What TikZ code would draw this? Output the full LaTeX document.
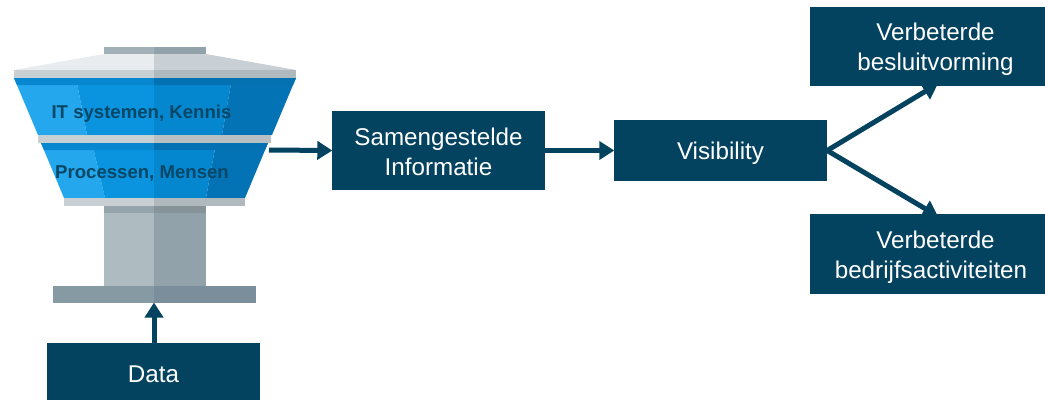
\documentclass[tikz,border=0pt]{standalone}
\usepackage{fontspec}
\setmainfont{Liberation Sans}
\usetikzlibrary{arrows.meta}
\definecolor{navy}{HTML}{03435F}
\definecolor{txtblue}{HTML}{074766}
\definecolor{bA}{HTML}{25A7EE}
\definecolor{bB}{HTML}{0A93DE}
\definecolor{bC}{HTML}{0587D0}
\definecolor{bD}{HTML}{0473B5}
\definecolor{bStripL}{HTML}{0787D0}
\definecolor{bStripR}{HTML}{0472B2}
\definecolor{gA}{HTML}{E8ECEE}
\definecolor{gB}{HTML}{C9D0D5}
\definecolor{gC}{HTML}{C9D0D3}
\definecolor{gD}{HTML}{B0B9BD}
\definecolor{cA}{HTML}{AEBBC1}
\definecolor{cB}{HTML}{92A2AA}
\definecolor{cC}{HTML}{95A3AA}
\definecolor{cD}{HTML}{869AA3}
\definecolor{cE}{HTML}{7A8E9B}
\newcommand\liftline{\rule{0pt}{23.5pt}}
\tikzset{
  box/.style={fill=navy,text=white,align=center,inner sep=0pt,font=\fontsize{24.2}{30}\selectfont},
  conn/.style={draw=navy,line width=5pt,-{Triangle[length=15pt,width=18pt]},shorten >=-0.5pt},
  lbl/.style={text=txtblue,inner sep=0pt,font=\bfseries\fontsize{18.6}{22}\selectfont},
}
\begin{document}
\begin{tikzpicture}[x=1pt,y=-1pt]
\useasboundingbox (0,0) rectangle (1045,400);
% tower top
\fill[cB!85!white] (104,47) rectangle (154,54);
\fill[cB] (154,47) rectangle (206,54);
\fill[gA] (104,54) -- (154,54) -- (154,70) -- (14,70) -- cycle;
\fill[gB] (154,54) -- (206,54) -- (296,70) -- (154,70) -- cycle;
\fill[gC] (14,70) rectangle (154,78);
\fill[gD] (154,70) rectangle (296,78);
% upper blue
\fill[bA] (14,78) -- (76,78) -- (87,135) -- (38,135) -- cycle;
\fill[bB] (76,78) -- (154,78) -- (154,135) -- (87,135) -- cycle;
\fill[bC] (154,78) -- (232,78) -- (222,135) -- (154,135) -- cycle;
\fill[bD] (232,78) -- (296,78) -- (272,135) -- (222,135) -- cycle;
\fill[bStripL] (14,78) -- (154,78) -- (154,85) -- (17,85) -- cycle;
\fill[bStripR] (154,78) -- (296,78) -- (293,85) -- (154,85) -- cycle;
% middle band
\fill[gC] (38,135) rectangle (154,143);
\fill[gD!70!gC] (154,135) rectangle (271,143);
% lower blue
\fill[bA] (41,143) -- (92,143) -- (105,198) -- (64,198) -- cycle;
\fill[bB] (92,143) -- (154,143) -- (154,198) -- (105,198) -- cycle;
\fill[bC] (154,143) -- (216,143) -- (206,198) -- (154,198) -- cycle;
\fill[bD] (216,143) -- (268,143) -- (245,198) -- (206,198) -- cycle;
\fill[bStripL] (41,143) -- (154,143) -- (154,150) -- (44,150) -- cycle;
\fill[bStripR] (154,143) -- (268,143) -- (265,150) -- (154,150) -- cycle;
% lower band
\fill[gC] (64,198) rectangle (154,206);
\fill[gD] (154,198) rectangle (245,206);
% column
\fill[cA] (104,206) rectangle (154,286);
\fill[cB] (154,206) rectangle (206,286);
\fill[cC] (104,206) rectangle (154,213);
\fill[cC!90!black] (154,206) rectangle (206,213);
% base
\fill[cD] (53,286) rectangle (154,303);
\fill[cE] (154,286) rectangle (256,303);
% tower labels
\node[lbl] (l1) at (141.5,113.5) {IT systemen, Kennis};
\node[lbl] (l2) at (142,174) {Processen, Mensen};
\coordinate (towerout) at (269,150);
\coordinate (towerbase) at (154,303);
% boxes
\node[box,minimum width=213pt,minimum height=79pt] (info) at (438.5,150.5) {\rule{0pt}{19.5pt}Samengestelde\\Informatie};
\node[box,minimum width=213pt,minimum height=61pt] (vis) at (720.5,150.5) {\liftline Visibility};
\node[box,minimum width=235pt,minimum height=79pt] (besl) at (927,46.5) {\liftline\hspace*{17pt}Verbeterde\\\hspace*{17pt}besluitvorming};
\node[box,minimum width=235pt,minimum height=80pt] (bedr) at (927,254) {\liftline\hspace*{17pt}Verbeterde\\\hspace*{8pt}bedrijfsactiviteiten};
\node[box,minimum width=213pt,minimum height=57pt] (data) at (153.5,371.5) {\rule{0pt}{22pt}Data};
% connectors
\draw[conn] (towerout) -- (info.west);
\draw[conn] (info.east) -- (vis.west);
\draw[conn] (data.north -| towerbase) -- (towerbase);
\coordinate (topend) at (937.5,84);
\coordinate (botend) at (937.5,216);
\draw[conn] (vis.east) -- (topend);
\draw[conn] (vis.east) -- (botend);
\end{tikzpicture}
\end{document}
